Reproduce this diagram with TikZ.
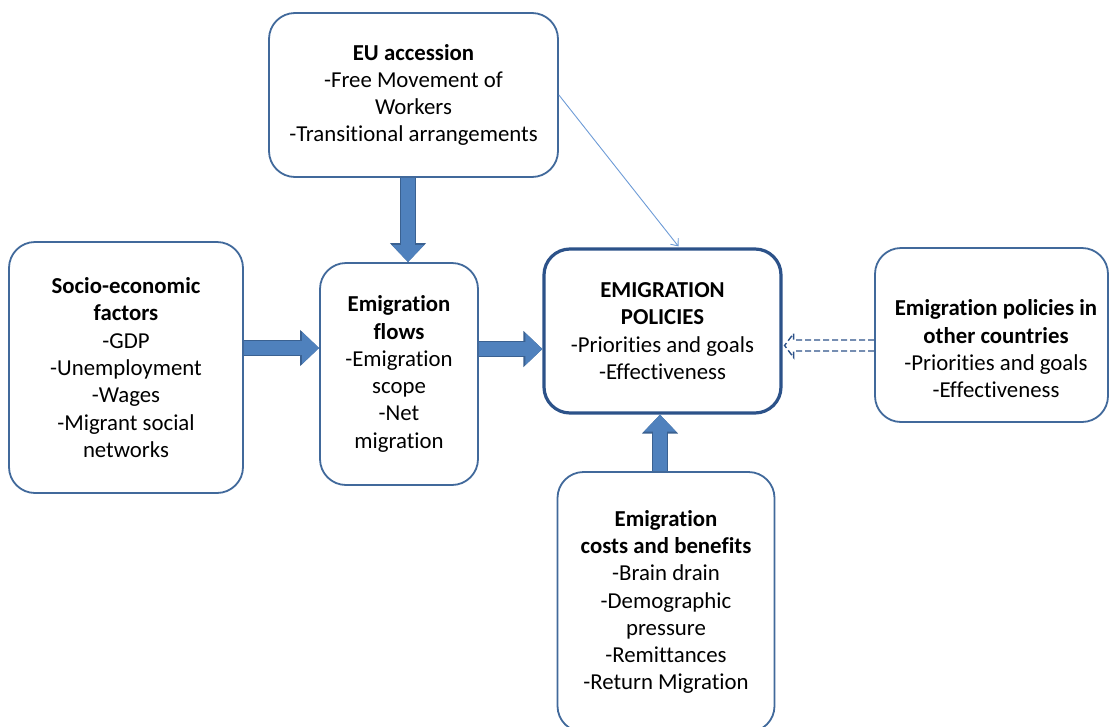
\documentclass[tikz,border=0pt]{standalone}
\usepackage{fontspec}
\setmainfont{Carlito}[Ligatures={NoCommon}]
\usetikzlibrary{arrows.meta,calc}

\definecolor{boxline}{HTML}{41699B}
\definecolor{polline}{HTML}{2C5289}
\definecolor{arrowfill}{HTML}{4F81BD}
\definecolor{arrowline}{HTML}{3A6191}
\definecolor{thinline}{HTML}{6D9BD6}

\tikzset{
  box/.style={draw=boxline,line width=1.8pt,rounded corners=26pt,fill=white,
    align=center,inner sep=0pt,font=\fontsize{22.8pt}{27.3pt}\selectfont},
  polbox/.style={box,draw=polline,line width=3.2pt},
  txt/.style={align=center,inner sep=0pt,font=\fontsize{22.8pt}{27.3pt}\selectfont},
  blockarrow/.style={draw=arrowfill,line width=14pt,-{Triangle[length=17pt,width=31pt]},
    preaction={draw=arrowline,line width=16.5pt,-{Triangle[length=19pt,width=35pt]}}},
  dasharrow/.style={draw=polline,line width=1.4pt,dash pattern=on 6pt off 3pt},
  thinarrow/.style={draw=thinline,line width=0.9pt,-{Straight Barb[length=6pt,width=10pt]}}
}

\begin{document}
\begin{tikzpicture}[x=1pt,y=-1pt]
  \useasboundingbox (0,0) rectangle (1109,726);
  \clip (0,0) rectangle (1109,726);

  % boxes
  \node[box,minimum width=289pt,minimum height=164pt] (eu) at (413.5,95)
    {\textbf{EU accession}\\-Free Movement of\\Workers\\-Transitional arrangements};
  \node[box,minimum width=234pt,minimum height=251pt] (socio) at (126,367.5)
    {\textbf{Socio-economic}\\\textbf{factors}\\-GDP\\-Unemployment\\-Wages\\-Migrant social\\networks};
  \node[box,minimum width=158pt,minimum height=222pt] (flows) at (399,374)
    {\textbf{Emigration}\\\textbf{flows}\\-Emigration\\scope\\-Net\\migration};
  \node[polbox,minimum width=237pt,minimum height=164pt] (pol) at (662.5,331)
    {\textbf{EMIGRATION}\\\textbf{POLICIES}\\-Priorities and goals\\-Effectiveness};
  \node[box,minimum width=233pt,minimum height=174pt] (other) at (991.5,335) {};
  \node[txt] (othertxt) at (996,349)
    {\textbf{Emigration policies in}\\\textbf{other countries}\\-Priorities and goals\\-Effectiveness};
  \node[box,minimum width=217pt,minimum height=260pt] (costs) at (666,602)
    {\textbf{Emigration}\\\textbf{costs and benefits}\\-Brain drain\\-Demographic\\pressure\\-Remittances\\-Return Migration};

  % block arrows
  \draw[blockarrow] ($(eu.south)+(-5.5,0)$) -- ($(flows.north)+(9,0)$);
  \draw[blockarrow] ($(socio.east)+(0,-19.5)$) -- ($(flows.west)+(0,-26)$);
  \draw[blockarrow] ($(flows.east)+(0,-25)$) -- ($(pol.west)+(0,18)$);
  \draw[blockarrow] ($(costs.north)+(-6,0)$) -- ($(pol.south)+(-2.5,0)$);

  % thin arrow
  \coordinate (eutip) at ($(pol.north)+(16,-1)$);
  \draw[thinarrow] (eu.east) -- (eutip);

  % dashed hollow arrow
  \coordinate (dtip) at ($(pol.east)+(2,14.5)$);
  \draw[dasharrow] ($(other.west|-dtip)+(0,-5.5)$) -- ($(dtip)+(9,-5.5)$)
    -- ($(dtip)+(9,-12)$) -- (dtip) -- ($(dtip)+(9,12)$) -- ($(dtip)+(9,5.5)$)
    -- ($(other.west|-dtip)+(0,5.5)$);
\end{tikzpicture}
\end{document}
